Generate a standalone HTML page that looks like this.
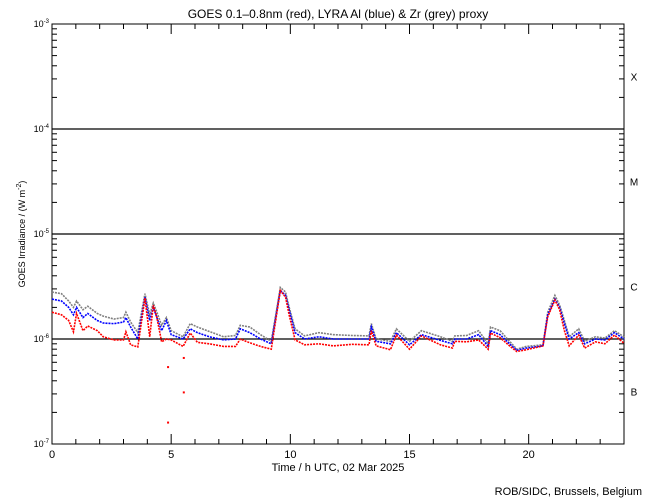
<!DOCTYPE html>
<html><head><meta charset="utf-8"><style>
body{margin:0;background:#fff}
svg{display:block;font-family:"Liberation Sans",sans-serif}
</style></head><body>
<svg id="chart" width="650" height="500" viewBox="0 0 650 500">
<text x="338" y="18" text-anchor="middle" font-size="12">GOES 0.1–0.8nm (red), LYRA Al (blue) &amp; Zr (grey) proxy</text>
<g id="axes"></g><g id="series"></g>
<text x="338" y="471" text-anchor="middle" font-size="11">Time / h UTC, 02 Mar 2025</text>
<text transform="translate(25,234) rotate(-90)" text-anchor="middle" font-size="9">GOES Irradiance / (W m<tspan dy="-4" font-size="7">-2</tspan><tspan dy="4">)</tspan></text>
<text x="642" y="495" text-anchor="end" font-size="11">ROB/SIDC, Brussels, Belgium</text>
</svg>
<script>
const times=[0,0.4,0.7,0.9,1.03,1.3,1.5,1.9,2.15,2.6,3.0,3.1,3.3,3.6,3.9,4.1,4.25,4.4,4.6,4.8,5.0,5.5,5.8,6.1,6.6,7.2,7.7,7.9,8.3,8.75,9.2,9.58,9.8,9.95,10.2,10.6,11.2,11.8,12.6,13.3,13.4,13.6,14.2,14.45,15.0,15.5,16.3,16.8,16.9,17.4,17.9,18.3,18.4,18.8,19.2,19.5,19.9,20.6,20.8,21.1,21.3,21.5,21.7,22.1,22.35,22.8,23.2,23.6,24.0];
const red=[1.8,1.7,1.5,1.17,1.75,1.2,1.33,1.2,1.05,0.98,0.98,1.17,0.88,0.84,2.45,1.05,2.1,1.6,0.94,1.0,0.98,0.85,1.14,0.93,0.9,0.85,0.85,1.0,0.92,0.85,0.8,2.9,2.5,1.7,0.98,0.88,0.9,0.86,0.89,0.88,1.2,0.86,0.79,1.09,0.8,1.07,0.88,0.82,0.95,0.94,0.98,0.8,1.14,1.03,0.86,0.76,0.79,0.86,1.63,2.35,1.9,1.2,0.86,1.09,0.82,0.94,0.9,1.09,0.91];
const blue=[2.4,2.3,2.0,1.7,2.0,1.6,1.75,1.5,1.42,1.4,1.45,1.6,1.3,1.0,2.5,1.5,2.0,1.6,1.2,1.5,1.1,1.0,1.25,1.15,1.05,0.98,1.0,1.25,1.15,1.0,0.9,2.9,2.6,1.9,1.15,1.0,1.05,1.0,1.0,1.0,1.3,0.95,0.9,1.15,0.88,1.1,0.97,0.9,1.0,1.0,1.1,0.85,1.2,1.1,0.9,0.78,0.82,0.86,1.7,2.4,2.0,1.4,1.0,1.15,0.9,1.0,0.98,1.15,1.0];
const grey=[2.8,2.7,2.3,2.0,2.3,1.9,2.05,1.75,1.65,1.55,1.6,1.8,1.45,1.15,2.7,1.7,2.2,1.8,1.35,1.6,1.2,1.05,1.4,1.3,1.18,1.05,1.08,1.35,1.3,1.1,0.95,3.1,2.8,2.0,1.25,1.07,1.15,1.1,1.08,1.07,1.4,1.0,0.95,1.25,0.95,1.2,1.05,0.95,1.07,1.08,1.2,0.9,1.3,1.2,0.95,0.8,0.85,0.88,1.8,2.6,2.1,1.5,1.05,1.25,0.95,1.05,1.02,1.2,1.05];
const outlierTimes=[4.87,4.87,5.53,5.53];
const outlierRed=[0.54,0.16,0.66,0.31];
const classLabels=["B","C","M","X"];
const decadeLabels=["-7","-6","-5","-4","-3"];
const xTicks=[0,5,10,15,20];
const L=52,R=624,T=24,B=444;
const xs=t=>L+(R-L)*t/24;
const ys=v=>B-(Math.log10(v)+7)*(B-T)/4;
const NS="http://www.w3.org/2000/svg";
function mk(tag,attrs,parent){const e=document.createElementNS(NS,tag);for(const k in attrs)e.setAttribute(k,attrs[k]);parent.appendChild(e);return e;}
const ax=document.getElementById('axes');
const frame=mk('rect',{x:L,y:T,width:R-L,height:B-T,fill:'none',stroke:'#000','stroke-width':1},ax);


for(let d=0;d<4;d++){
  for(let m=2;m<=9;m++){
    const y=ys(m*Math.pow(10,d-7));
    const a=mk('line',{x1:L,x2:L+5,y1:y,y2:y,stroke:'#000'},ax);
    
    
    const b=mk('line',{x1:R-5,x2:R,y1:y,y2:y,stroke:'#000'},ax);
    
    
  }
  const cl=mk('text',{x:634,y:ys(3.16*Math.pow(10,d-7))+4,'font-size':10,'text-anchor':'middle'},ax);
  cl.textContent=classLabels[d];
  
  
}
decadeLabels.forEach((e,i)=>{
  const y=ys(Math.pow(10,i-7));
  if(i>0&&i<4){const g=mk('line',{x1:L,x2:R,y1:y,y2:y,stroke:'#000','stroke-width':1.3},ax);
    
    }
  const t=mk('text',{x:L-3,y:y+3,'font-size':9,'text-anchor':'end'},ax);
  t.innerHTML='10<tspan dy="-4" font-size="6">'+e+'</tspan>';
  
  
});
for(let h=1;h<24;h++){
  const x=xs(h);const len=xTicks.includes(h)?10:5;
  const a=mk('line',{x1:x,x2:x,y1:B,y2:B-len,stroke:'#000'},ax);
  
  
  const b=mk('line',{x1:x,x2:x,y1:T,y2:T+len,stroke:'#000'},ax);
  
  
}
xTicks.forEach(h=>{
  const t=mk('text',{x:xs(h),y:B+14,'font-size':11,'text-anchor':'middle'},ax);
  t.textContent=h;
  
  
});
const sg=document.getElementById('series');
[[grey,'#808080','zr-grey-series'],[blue,'#0000ff','al-blue-series'],[red,'#ff0000','goes-red-series']].forEach(([vals,c,n])=>{
  const p=mk('polyline',{points:times.map((t,i)=>xs(t)+','+ys(vals[i]*1e-6)).join(' '),fill:'none',stroke:c,'stroke-width':1.6,'stroke-dasharray':'2 1'},sg);
  
  
});
outlierTimes.forEach((t,i)=>{
  const r=mk('rect',{x:xs(t)-1,y:ys(outlierRed[i]*1e-6)-1,width:2,height:2,fill:'#ff0000'},sg);
  
  
});
</script>
</body></html>
